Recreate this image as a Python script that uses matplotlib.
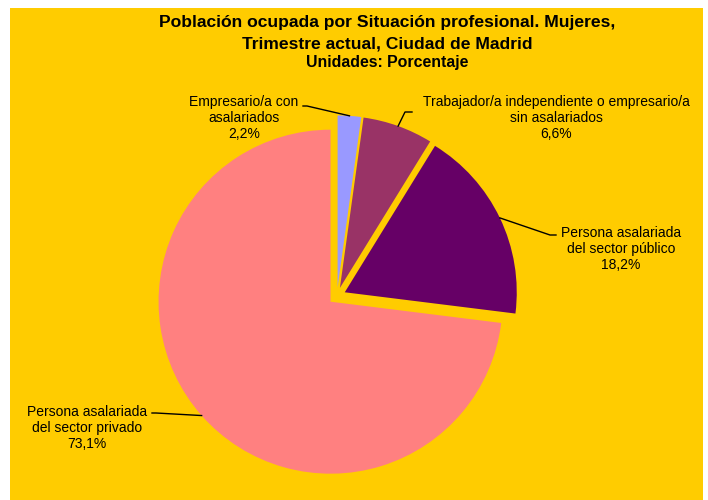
import numpy as np
import matplotlib.pyplot as plt
from matplotlib.patches import Rectangle

plt.rcParams['font.family'] = ['Liberation Sans', 'DejaVu Sans']

# datos
categorias = ['Empresario/a con\nasalariados',
              'Trabajador/a independiente o empresario/a\nsin asalariados',
              'Persona asalariada\ndel sector público',
              'Persona asalariada\ndel sector privado']
valores = [2.2, 6.6, 18.2, 73.1]
colores = ['#9999FF', '#993366', '#660066', '#FF8080']

W, H = 708, 500
cx, cy, R = 337, 296, 172   # centro y radio de la tarta en pixeles

fig = plt.figure(figsize=(W / 100, H / 100), dpi=100)
fig.patch.set_facecolor('white')
fig.patches.append(Rectangle((10 / W, 0), 693 / W, 492 / H, transform=fig.transFigure,
                             facecolor='#FFCC00', edgecolor='none', zorder=-10))

ax = fig.add_axes([(cx - R) / W, (H - cy - R) / H, 2 * R / W, 2 * R / H])
wedges, _ = ax.pie(valores, colors=colores, startangle=90, counterclock=False,
                   explode=[0.05] * 4, wedgeprops=dict(linewidth=0))
ax.set_xlim(-1, 1)
ax.set_ylim(-1, 1)
ax.axis('off')


def px2data(x, y):
    return (x - cx) / R, (cy - y) / R


# posicion de las etiquetas y del codo de la linea guia (pixeles)
label_pos = [(244, 118), (556, 118), (621, 249), (87, 428)]
line_attach = [(303, 106), (412, 112), (556, 235), (152, 413)]
line_elbow = [(307, 106), (405, 112), (550, 235), (156, 413)]

for w, cat, v, lp, la, le in zip(wedges, categorias, valores, label_pos, line_attach, line_elbow):
    ang = np.deg2rad((w.theta1 + w.theta2) / 2)
    px = w.center[0] + w.r * np.cos(ang)
    py = w.center[1] + w.r * np.sin(ang)
    x0, y0 = px2data(*la)
    x1, y1 = px2data(*le)
    ax.plot([x0, x1, px], [y0, y1, py], color='black', lw=1, clip_on=False)
    tx, ty = px2data(*lp)
    txt = cat + '\n' + f'{v:.1f}'.replace('.', ',') + '%'
    ax.text(tx, ty, txt, ha='center', va='center', fontsize=10, linespacing=1.2,
            clip_on=False)

fig.text(387 / W, 1 - 33 / H, 'Población ocupada por Situación profesional. Mujeres,\nTrimestre actual, Ciudad de Madrid',
         ha='center', va='center', fontsize=12.6, fontweight='bold', linespacing=1.5)
fig.text(387 / W, 1 - 62 / H, 'Unidades: Porcentaje', ha='center', va='center',
         fontsize=11.4, fontweight='bold')

plt.savefig('out.png', dpi=100)
